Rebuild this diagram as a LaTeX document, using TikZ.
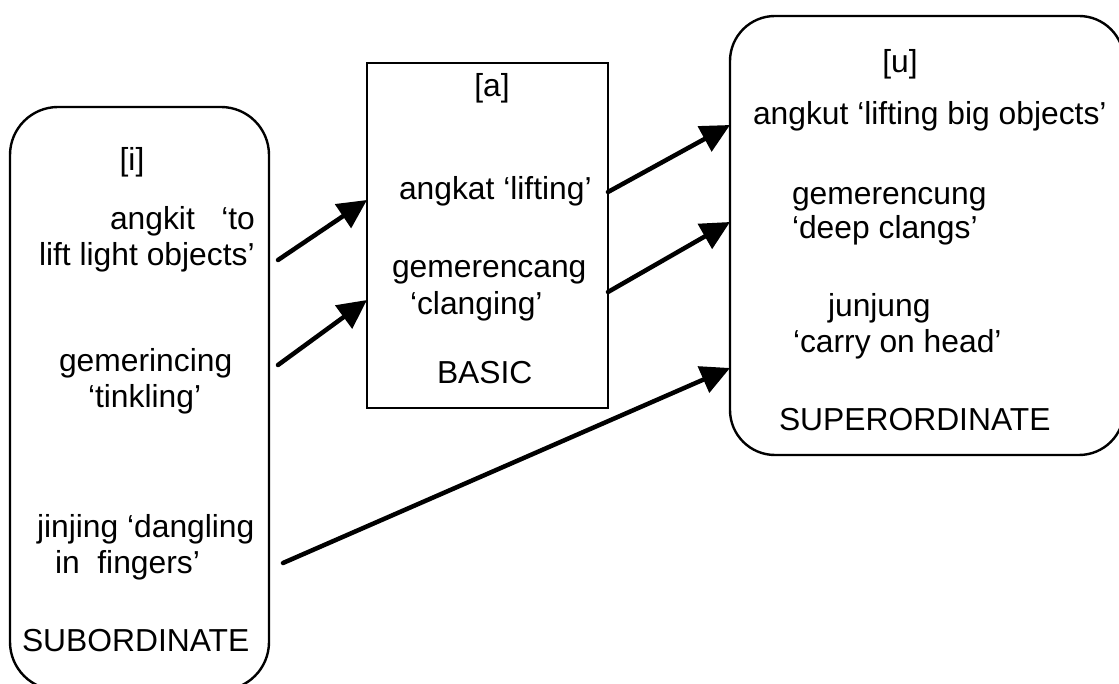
\documentclass[tikz,border=0pt]{standalone}
\usepackage{fontspec}
\setmainfont{Liberation Sans}
\usetikzlibrary{arrows.meta}
\begin{document}
\begin{tikzpicture}[x=1pt,y=-1pt,
  box/.style={draw,line width=2.4pt,inner sep=0pt,outer sep=0pt},
  txt/.style={inner sep=0pt,outer sep=0pt,anchor=base west,font=\fontsize{31.8}{36}\selectfont},
  ctxt/.style={txt,anchor=base},
  arr/.style={line width=4.5pt,line cap=round,-{Triangle[length=29pt,width=28pt]}}]
\useasboundingbox (0,0) rectangle (1119,684);
\clip (0,0) rectangle (1119,684);
% boxes
\node[box,rounded corners=48pt,minimum width=259pt,minimum height=583pt] (sub) at (139.5,398.5) {};
\node[box,minimum width=241pt,minimum height=345pt] (mid) at (487.5,235.5) {};
\node[box,rounded corners=45pt,minimum width=394pt,minimum height=439pt] (sup) at (927,235.5) {};
% left texts
\node[ctxt] (ti) at (132,171) {[i]};
\node[txt] (l1) at (110,230) {angkit~~~‘to};
\node[txt] (l2) at (39,266) {lift light objects’};
\node[txt] (l3) at (59,372) {gemerincing};
\node[txt] (l4) at (88,407) {‘tinkling’};
\node[txt] (l5) at (37,537) {jinjing ‘dangling};
\node[txt] (l6) at (55,573) {in~~fingers’};
\node[txt] (l7) at (22,651) {SUBORDINATE};
% middle texts
\node[ctxt] (ta) at (492,97) {[a]};
\node[txt] (m1) at (399,200) {angkat ‘lifting’};
\node[txt] (m2) at (392,278) {gemerencang};
\node[txt] (m3) at (410,315) {‘clanging’};
\node[txt] (m4) at (437,384) {BASIC};
% right texts
\node[ctxt] (tu) at (900,73) {[u]};
\node[txt] (r1) at (753,125) {angkut ‘lifting big objects’};
\node[txt] (r2) at (792,205) {gemerencung};
\node[txt] (r3) at (792,239) {‘deep clangs’};
\node[txt] (r4) at (828,317) {junjung};
\node[txt] (r5) at (793,353) {‘carry on head’};
\node[txt] (r6) at (779,430) {SUPERORDINATE};
% arrows
\draw[arr] ([xshift=9pt,yshift=138.5pt]sub.east) -- ([yshift=35.5pt]mid.west);
\draw[arr] ([xshift=9pt,yshift=33.5pt]sub.east) -- ([yshift=-64.5pt]mid.west);
\draw[arr] ([yshift=43.5pt]mid.east) -- ([yshift=110.5pt]sup.west);
\draw[arr] ([yshift=-56.5pt]mid.east) -- ([yshift=13.5pt]sup.west);
\draw[arr] ([xshift=14pt,yshift=-164.5pt]sub.east) -- ([yshift=-132.5pt]sup.west);
\end{tikzpicture}
\end{document}
